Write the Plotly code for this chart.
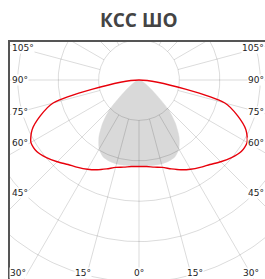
import numpy as np
import plotly.graph_objects as go

# ---- data (luminous intensity, cd, vs angle from nadir, symmetric) ----
red_angles = [0, 5, 10, 15, 20, 25, 30, 35, 40, 45, 50, 55, 60, 65, 70, 75, 90]
red_values = [214, 215, 219, 224, 234, 245, 255, 264, 273, 286, 299, 309, 309, 292, 260, 220, 0]

gray_angles = [0, 5, 10, 15, 20, 25, 30, 35, 40, 45, 50]
gray_values = [212, 213, 214, 215, 214, 210, 197, 173, 140, 101, 0]

ring_values = [100, 200, 300, 400, 500, 600, 700]
ray_angles = list(range(-180, 181, 15))
side_labels = [105, 90, 75, 60, 45]
bottom_labels = [-30, -15, 0, 15, 30]
title_text = "КСС ШО"

S = 2.475  # cd per pixel


def sym_xy(angles, values):
    a = np.array(angles, dtype=float)
    v = np.array(values, dtype=float)
    al = a[::-1]
    vl = v[::-1]
    ar = a[1:]
    vr = v[1:]
    x = np.concatenate([-vl * np.sin(np.radians(al)), vr * np.sin(np.radians(ar))])
    y = np.concatenate([-vl * np.cos(np.radians(al)), -vr * np.cos(np.radians(ar))])
    return x, y


fig = go.Figure()

# gray shape
gx, gy = sym_xy(gray_angles, gray_values)
fig.add_trace(go.Scatter(x=gx, y=gy, mode="lines", fill="toself",
                         fillcolor="#d9d9d9", line=dict(color="#d9d9d9", width=0.5,
                                                        shape="spline", smoothing=0.6),
                         hoverinfo="skip", showlegend=False))

# grid circles
t = np.linspace(0, 2 * np.pi, 361)
cx, cy = [], []
for r in ring_values:
    cx += list(r * np.sin(t)) + [None]
    cy += list(r * np.cos(t)) + [None]
# radial rays
for a in ray_angles:
    th = np.radians(a)
    cx += [ring_values[0] * np.sin(th), ring_values[-1] * 1.2 * np.sin(th), None]
    cy += [-ring_values[0] * np.cos(th), -ring_values[-1] * 1.2 * np.cos(th), None]
fig.add_trace(go.Scatter(x=cx, y=cy, mode="lines",
                         line=dict(color="rgba(0,0,0,0.14)", width=1),
                         hoverinfo="skip", showlegend=False))

# red curve
rx, ry = sym_xy(red_angles, red_values)
fig.add_trace(go.Scatter(x=rx, y=ry, mode="lines",
                         line=dict(color="#e8000b", width=1.4, shape="spline", smoothing=0.7),
                         hoverinfo="skip", showlegend=False))

lab_font = dict(family="DejaVu Sans", size=9, color="#222")
D = 119 * S
for a in side_labels:
    th = np.radians(a)
    yv = -D * np.cos(th) / np.sin(th)
    ya = "bottom" if a < 75 else "middle"
    fig.add_annotation(x=0, xref="paper", y=yv, yref="y", text=f"{a}°", showarrow=False,
                       xanchor="left", yanchor=ya, xshift=1, font=lab_font,
                       bgcolor="white", borderpad=0)
    fig.add_annotation(x=1, xref="paper", y=yv, yref="y", text=f"{a}°", showarrow=False,
                       xanchor="right", yanchor=ya, xshift=0, font=lab_font,
                       bgcolor="white", borderpad=0)
B = 210 * S
for a in bottom_labels:
    th = np.radians(a)
    fig.add_annotation(x=B * np.tan(th), xref="x", y=-193 * S, yref="y",
                       text=f"{abs(a)}°", showarrow=False,
                       xanchor="right" if a == 30 else "center",
                       xshift=0,
                       yanchor="middle", font=lab_font, bgcolor="white", borderpad=0)

fig.add_annotation(x=0, xref="x", y=1 + 22 / 237, yref="paper", text=f"<b>{title_text}</b>",
                   showarrow=False, xanchor="center", yanchor="middle",
                   font=dict(family="Open Sans", size=19, color="#444"))

fig.update_xaxes(range=[-129 * S, 126 * S], showgrid=False, zeroline=False,
                 showticklabels=False, ticks="", side="top", showline=True,
                 linecolor="#555", linewidth=2, fixedrange=True)
fig.update_yaxes(range=[-199 * S, 38 * S], showgrid=False, zeroline=False,
                 showticklabels=False, ticks="", showline=True,
                 linecolor="#555", linewidth=2, fixedrange=True)
fig.update_layout(width=265, height=279, margin=dict(l=10, r=0, t=42, b=0, pad=0),
                  plot_bgcolor="white", paper_bgcolor="white", showlegend=False)

fig.write_html("out.html", config={"displayModeBar": False, "staticPlot": True},
               post_script="document.body.style.margin='0';document.body.style.overflow='hidden';")
